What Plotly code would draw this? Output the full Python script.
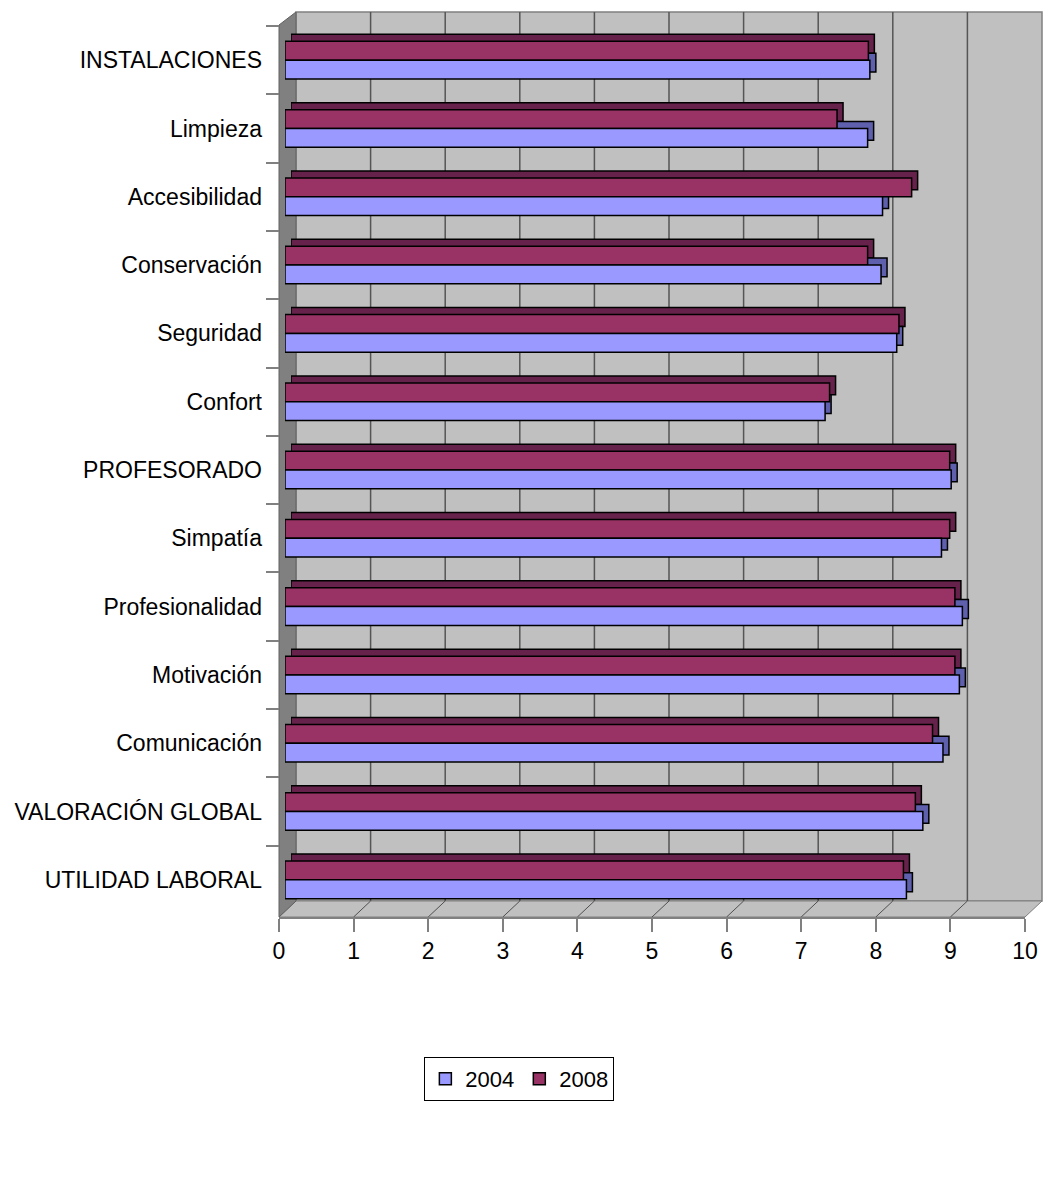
import plotly.graph_objects as go

categories = ["INSTALACIONES", "Limpieza", "Accesibilidad", "Conservación", "Seguridad",
              "Confort", "PROFESORADO", "Simpatía", "Profesionalidad", "Motivación",
              "Comunicación", "VALORACIÓN GLOBAL", "UTILIDAD LABORAL"]
values_2004 = [7.84, 7.81, 8.01, 7.99, 8.20, 7.24, 8.93, 8.80, 9.08, 9.04, 8.82, 8.55, 8.33]
values_2008 = [7.82, 7.40, 8.40, 7.81, 8.23, 7.30, 8.91, 8.91, 8.98, 8.98, 8.68, 8.45, 8.29]
x_ticks = list(range(0, 11))
series_names = ["2004", "2008"]

W, H = 1045, 1183
def X(p): return p / W
def Y(p): return 1 - p / H

FONT = "Liberation Sans, Arial, sans-serif"
FS = 23
C2004, C2008 = "#9999FF", "#993366"
D2004, D2008 = "#5E60AE", "#66224A"

fig = go.Figure()

# back (3D depth) bars on x2/y2
for name, vals, col in [(series_names[1], values_2008, D2008), (series_names[0], values_2004, D2004)]:
    fig.add_trace(go.Bar(y=categories, x=vals, orientation="h", xaxis="x2", yaxis="y2",
                         marker=dict(color=col, line=dict(color="black", width=1.5)),
                         showlegend=False, hoverinfo="skip"))
# front bars on x3/y3
for name, vals, col, rank in [(series_names[1], values_2008, C2008, 2), (series_names[0], values_2004, C2004, 1)]:
    fig.add_trace(go.Bar(y=categories, x=vals, orientation="h", xaxis="x3", yaxis="y3",
                         name=name, legendrank=rank,
                         marker=dict(color=col, line=dict(color="black", width=1.5))))

shapes = []
# back wall
shapes.append(dict(type="rect", xref="paper", yref="paper", x0=X(296), x1=X(1042), y0=Y(901), y1=Y(12),
                   fillcolor="#C0C0C0", line=dict(color="#808080", width=1.5), layer="below"))
# floor
shapes.append(dict(type="path", xref="paper", yref="paper",
                   path=f"M {X(279)},{Y(917)} L {X(296)},{Y(901)} L {X(1042)},{Y(901)} L {X(1025)},{Y(917)} Z",
                   fillcolor="#C0C0C0", line=dict(color="#808080", width=1), layer="below"))
# left wall
shapes.append(dict(type="path", xref="paper", yref="paper",
                   path=f"M {X(279)},{Y(25)} L {X(296)},{Y(12)} L {X(296)},{Y(901)} L {X(279)},{Y(917)} Z",
                   fillcolor="#808080", line=dict(color="#606060", width=1), layer="below"))
# back-wall gridlines, on the back-wall axis (x)
for v in x_ticks[1:-1]:
    shapes.append(dict(type="line", xref="x", x0=v, x1=v, yref="paper", y0=Y(901), y1=Y(12),
                       line=dict(color="#555555", width=1.5), layer="below"))
# floor diagonals, from the front tick (x4 axis) to the back-wall gridline
for v in x_ticks[1:]:
    shapes.append(dict(type="line", xref="x4", xsizemode="pixel", xanchor=v, x0=0, x1=17,
                       yref="paper", y0=Y(917), y1=Y(901),
                       line=dict(color="#505050" if v < 10 else "#808080", width=1),
                       layer="below"))

fig.update_layout(
    width=W, height=H, autosize=False,
    margin=dict(l=0, r=0, t=0, b=0, autoexpand=False),
    paper_bgcolor="white", plot_bgcolor="rgba(0,0,0,0)",
    font=dict(family=FONT, size=FS, color="black"),
    barmode="group", bargap=0.45, bargroupgap=0,
    shapes=shapes,
    # back-wall axis
    xaxis=dict(domain=[X(296), X(1042)], range=[0, 10], dtick=1, showgrid=False, automargin=False,
               zeroline=False, showticklabels=False, ticks="", anchor="y", fixedrange=True),
    yaxis=dict(domain=[Y(901), Y(12)], range=[0, 1], visible=False, anchor="x",
               automargin=False, fixedrange=True),
    # back bars
    xaxis2=dict(domain=[X(291), X(1037)], range=[0, 10], visible=False, anchor="y2", automargin=False),
    yaxis2=dict(domain=[Y(907), Y(19)], type="category", categoryorder="array", automargin=False,
                categoryarray=categories, autorange="reversed", visible=False, anchor="x2"),
    # front bars
    xaxis3=dict(domain=[X(285), X(1031)], range=[0, 10], visible=False, anchor="y3", automargin=False),
    yaxis3=dict(domain=[Y(914), Y(26)], type="category", categoryorder="array", automargin=False,
                categoryarray=categories, autorange="reversed", anchor="free", position=X(279),
                showgrid=False, zeroline=False, showline=False,
                ticks="outside", tickson="boundaries", ticklen=13, tickwidth=1.5,
                tickcolor="#808080", ticklabelstandoff=17,
                tickfont=dict(size=FS, family=FONT, color="black")),
    # front tick-label axis
    xaxis4=dict(domain=[X(279), X(1025)], range=[0, 10], tickvals=x_ticks, automargin=False,
                ticktext=[str(t) for t in x_ticks], showgrid=False, zeroline=False,
                showline=True, linecolor="#808080", linewidth=1.5,
                ticks="outside", ticklen=13, tickwidth=1.5, tickcolor="#808080",
                tickfont=dict(size=FS, family=FONT, color="black"), anchor="y4"),
    yaxis4=dict(domain=[Y(917), Y(901)], range=[0, 1], visible=False, anchor="x4", automargin=False),
    legend=dict(orientation="h", x=0.497, xanchor="center", y=Y(1057), yanchor="top",
                bordercolor="black", borderwidth=1, bgcolor="white",
                font=dict(size=22, family=FONT), itemwidth=30, traceorder="normal",
                tracegroupgap=0),
)

fig.write_html("out.html")
